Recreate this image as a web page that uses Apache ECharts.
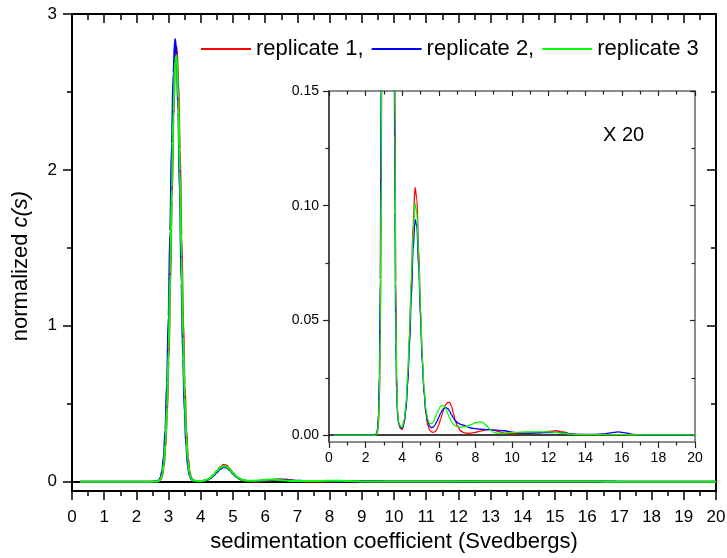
<!DOCTYPE html>
<html>
<head>
<meta charset="utf-8">
<script src="https://cdn.jsdelivr.net/npm/echarts@6/dist/echarts.min.js"></script>
<style>html,body{margin:0;padding:0;background:#fff}#c{width:727px;height:558px}</style>
</head>
<body>
<div id="c"></div>
<script>
// sedimentation coefficient (S)
const xs = [0.25, 1, 2, 2.4, 2.5,
  2.6, 2.65, 2.7, 2.75, 2.8, 2.85, 2.9, 2.95, 3.0, 3.05, 3.1, 3.15, 3.2, 3.25, 3.3, 3.35, 3.4, 3.45, 3.5, 3.55, 3.6, 3.65, 3.7, 3.75, 3.8,
  3.9, 4.0,
  4.1, 4.2, 4.3, 4.4, 4.5, 4.6, 4.7, 4.8, 4.9, 5.0,
  5.1, 5.2, 5.3, 5.4, 5.5, 5.6, 5.7, 5.8, 5.9, 6.0,
  6.1, 6.2, 6.3, 6.4, 6.5, 6.6, 6.7, 6.8, 6.9, 7.0,
  7.2, 7.4, 7.6, 7.8, 8.0, 8.2, 8.4, 8.6, 8.8, 9.0,
  9.3, 9.6, 10, 10.5, 11, 11.5, 12, 12.4, 12.8, 13.2,
  13.6, 14, 14.5, 15, 15.4, 15.8, 16.2, 16.6, 17, 18,
  19, 20];
const rep1 = [0, 0, 0, 0, 0,
  0.0003, 0.0012, 0.0043, 0.0134, 0.038, 0.095, 0.214, 0.431, 0.776, 1.25, 1.805, 2.33, 2.69, 2.79, 2.575, 2.13, 1.58, 1.047, 0.621, 0.329, 0.157, 0.067, 0.026, 0.011, 0.0050,
  0.0029, 0.0025,
  0.005, 0.011, 0.024, 0.044, 0.068, 0.092, 0.108, 0.103, 0.081, 0.055,
  0.033, 0.018, 0.0088, 0.0042, 0.0022, 0.0014, 0.0012, 0.0015, 0.0025, 0.0045,
  0.007, 0.0095, 0.012, 0.0135, 0.0143, 0.0142, 0.0125, 0.0095, 0.0065, 0.0042,
  0.0018, 0.0010, 0.0008, 0.0009, 0.0012, 0.0016, 0.0020, 0.0024, 0.0025, 0.0022,
  0.0015, 0.0009, 0.0007, 0.0007, 0.0008, 0.0011, 0.0016, 0.0019, 0.0014, 0.0006,
  0.0003, 0.0002, 0.0002, 0.0002, 0.0002, 0.0002, 0.0002, 0.0001, 0.0001, 0.0001,
  0.0001, 0.0001];
const rep2 = [0, 0, 0, 0, 0.0001,
  0.0007, 0.0027, 0.0088, 0.026, 0.068, 0.159, 0.335, 0.632, 1.065, 1.61, 2.17, 2.62, 2.84, 2.74, 2.37, 1.84, 1.27, 0.79, 0.438, 0.218, 0.097, 0.040, 0.017, 0.0085, 0.0055,
  0.0036, 0.0030,
  0.0055, 0.011, 0.022, 0.039, 0.060, 0.081, 0.094, 0.091, 0.073, 0.051,
  0.031, 0.018, 0.0098, 0.0058, 0.0039, 0.0032, 0.0035, 0.0045, 0.006, 0.0078,
  0.0096, 0.011, 0.0118, 0.012, 0.0115, 0.0103, 0.0088, 0.0074, 0.0063, 0.0055,
  0.0047, 0.0042, 0.0035, 0.0030, 0.0028, 0.0026, 0.0025, 0.0024, 0.0023, 0.0022,
  0.0021, 0.0019, 0.0013, 0.0009, 0.0009, 0.0010, 0.0011, 0.0012, 0.0009, 0.0005,
  0.0003, 0.0003, 0.0003, 0.0005, 0.0010, 0.0014, 0.0010, 0.0003, 0.0001, 0.0001,
  0.0001, 0.0001];
const rep3 = [0, 0, 0, 0, 0,
  0.0004, 0.0016, 0.0053, 0.0164, 0.045, 0.111, 0.244, 0.480, 0.846, 1.334, 1.882, 2.377, 2.70, 2.735, 2.457, 1.99, 1.442, 0.934, 0.542, 0.281, 0.131, 0.054, 0.022, 0.0095, 0.0058,
  0.0040, 0.0034,
  0.0065, 0.013, 0.026, 0.045, 0.068, 0.089, 0.101, 0.097, 0.078, 0.055,
  0.034, 0.020, 0.011, 0.0068, 0.0050, 0.0050, 0.0058, 0.0075, 0.0095, 0.0113,
  0.0126, 0.0130, 0.0126, 0.0112, 0.0093, 0.0074, 0.0058, 0.0047, 0.0040, 0.0037,
  0.0035, 0.0036, 0.0040, 0.0047, 0.0054, 0.0058, 0.0055, 0.0042, 0.0025, 0.0012,
  0.0007, 0.0008, 0.0011, 0.0013, 0.0014, 0.0014, 0.0014, 0.0012, 0.0008, 0.0004,
  0.0002, 0.0002, 0.0002, 0.0002, 0.0002, 0.0002, 0.0002, 0.0001, 0.0001, 0.0001,
  0.0001, 0.0001];

const seriesNames = ['replicate 1,', 'replicate 2,', 'replicate 3'];
const seriesColors = ['#ff0000', '#0000ff', '#00ff00'];
const mainYTicks = [0, 1, 2, 3];
const mainYMinor = [0.5, 1.5, 2.5];
const insetYTicks = [0, 0.05, 0.10, 0.15];
const insetYMinor = [0.025, 0.075, 0.125];
const insetYLabels = ['0.00', '0.05', '0.10', '0.15'];
const xTitle = 'sedimentation coefficient (Svedbergs)';
const insetNote = 'X 20';

const FONT = 'Liberation Sans, Arial, sans-serif';
const reps = [rep1, rep2, rep3];
const pairs = r => xs.map((x, i) => [x, r[i]]);

const chart = echarts.init(document.getElementById('c'), null, {renderer: 'canvas'});

function xAxisDef(grid, pos, opts) {
  return Object.assign({
    type: 'value', gridIndex: grid, position: pos, min: 0, max: 20,
    splitLine: {show: false},
    axisLine: {onZero: false, lineStyle: {color: '#000', width: 2}},
    axisTick: {show: true, inside: false, length: 9, lineStyle: {color: '#000', width: 1.5}},
    minorTick: {show: true, splitNumber: 2, length: 5, lineStyle: {color: '#000', width: 1.5}},
    axisLabel: {show: false}
  }, opts);
}
function yAxisDef(grid, pos, min, max, ticks, opts) {
  return Object.assign({
    type: 'value', gridIndex: grid, position: pos, min: min, max: max,
    splitLine: {show: false},
    axisLine: {onZero: false, show: true, lineStyle: {color: '#000', width: 2}},
    axisTick: {show: true, customValues: ticks, length: 9, lineStyle: {color: '#000', width: 1.5}},
    axisLabel: {show: false, customValues: ticks}
  }, opts);
}

const series = [];
reps.forEach((r, k) => {
  series.push({
    name: seriesNames[k], type: 'line', xAxisIndex: 0, yAxisIndex: 0,
    data: pairs(r), symbol: 'none', smooth: 0.35, smoothMonotone: 'x',
    lineStyle: {color: seriesColors[k], width: 2}, itemStyle: {color: seriesColors[k]},
    z: 3 + k,
    markLine: k === 0 ? {silent: true, symbol: 'none', label: {show: false},
      lineStyle: {color: '#000', width: 2, type: 'solid'}, data: [{yAxis: 0}], z: 2} : undefined
  });
});
reps.forEach((r, k) => {
  series.push({
    name: seriesNames[k], type: 'line', xAxisIndex: 2, yAxisIndex: 4,
    data: pairs(r), symbol: 'none', smooth: 0.35, smoothMonotone: 'x',
    lineStyle: {color: seriesColors[k], width: 1.3}, itemStyle: {color: seriesColors[k]},
    z: 3 + k, clip: true,
    markLine: k === 0 ? {silent: true, symbol: 'none', label: {show: false},
      lineStyle: {color: '#000', width: 1.5, type: 'solid'}, data: [{yAxis: 0}], z: 2} : undefined
  });
});

const INSET_GRAY = '#666';

chart.setOption({
  animation: false,
  backgroundColor: '#fff',
  grid: [
    {left: 72, right: 11, top: 14, bottom: 67, outerBoundsMode: 'none', containLabel: false},
    {left: 329, right: 32, top: 91, bottom: 116, outerBoundsMode: 'none', containLabel: false}
  ],
  legend: {
    data: seriesNames, left: 196, top: 33, icon: 'rect', itemWidth: 50, itemHeight: 2, itemGap: 8,
    textStyle: {fontFamily: FONT, fontSize: 22, color: '#000'}, padding: 5
  },
  xAxis: [
    xAxisDef(0, 'bottom', {
      interval: 1,
      axisLabel: {show: true, fontFamily: FONT, fontSize: 17, color: '#000', margin: 18},
      name: xTitle, nameLocation: 'middle', nameGap: 37,
      nameTextStyle: {fontFamily: FONT, fontSize: 22, color: '#000'}
    }),
    xAxisDef(0, 'top', {interval: 1,
      axisTick: {show: true, inside: true, length: 9, lineStyle: {color: '#000', width: 1.5}},
      minorTick: {show: true, splitNumber: 2, length: 6, lineStyle: {color: '#000', width: 1.5}}}),
    xAxisDef(1, 'bottom', {
      interval: 2,
      axisLine: {onZero: false, lineStyle: {color: INSET_GRAY, width: 1.5}},
      axisTick: {show: true, length: 6, lineStyle: {color: '#222', width: 1.2}},
      minorTick: {show: true, splitNumber: 2, length: 3.5, lineStyle: {color: '#222', width: 1.2}},
      axisLabel: {show: true, fontFamily: FONT, fontSize: 14, color: '#000', margin: 9}
    }),
    xAxisDef(1, 'top', {
      interval: 2,
      axisLine: {onZero: false, lineStyle: {color: INSET_GRAY, width: 1.5}},
      axisTick: {show: true, inside: true, length: 5, lineStyle: {color: '#222', width: 1.2}},
      minorTick: {show: true, splitNumber: 2, length: 3.5, lineStyle: {color: '#222', width: 1.2}}
    })
  ],
  yAxis: [
    yAxisDef(0, 'left', -0.06, 3, mainYTicks, {
      axisLabel: {show: true, customValues: mainYTicks, fontFamily: FONT, fontSize: 17, color: '#000', margin: 15,
        formatter: v => String(Math.round(v))}
    }),
    yAxisDef(0, 'left', -0.06, 3, mainYMinor, {
      axisLine: {show: false, onZero: false},
      axisTick: {show: true, customValues: mainYMinor, length: 5, lineStyle: {color: '#000', width: 1.5}}
    }),
    yAxisDef(0, 'right', -0.06, 3, mainYTicks, {
      axisTick: {show: true, inside: true, customValues: mainYTicks, length: 9, lineStyle: {color: '#000', width: 1.5}}
    }),
    yAxisDef(0, 'right', -0.06, 3, mainYMinor, {
      axisLine: {show: false, onZero: false},
      axisTick: {show: true, inside: true, customValues: mainYMinor, length: 5, lineStyle: {color: '#000', width: 1.5}}
    }),
    yAxisDef(1, 'left', -0.003, 0.15, insetYTicks, {
      axisLine: {show: true, onZero: false, lineStyle: {color: '#111', width: 1.5}},
      axisTick: {show: true, customValues: insetYTicks, length: 6, lineStyle: {color: '#222', width: 1.2}},
      axisLabel: {show: true, customValues: insetYTicks, fontFamily: FONT, fontSize: 14, color: '#000', margin: 10,
        formatter: v => insetYLabels[insetYTicks.findIndex(t => Math.abs(t - v) < 1e-9)] || v.toFixed(2)}
    }),
    yAxisDef(1, 'left', -0.003, 0.15, insetYMinor, {
      axisLine: {show: false, onZero: false},
      axisTick: {show: true, customValues: insetYMinor, length: 3.5, lineStyle: {color: '#222', width: 1.2}}
    }),
    yAxisDef(1, 'right', -0.003, 0.15, insetYTicks, {
      axisLine: {show: true, onZero: false, lineStyle: {color: INSET_GRAY, width: 1.5}},
      axisTick: {show: true, inside: true, customValues: insetYTicks, length: 5, lineStyle: {color: '#222', width: 1.2}}
    }),
    yAxisDef(1, 'right', -0.003, 0.15, insetYMinor, {
      axisLine: {show: false, onZero: false},
      axisTick: {show: true, inside: true, customValues: insetYMinor, length: 3.5, lineStyle: {color: '#222', width: 1.2}}
    })
  ],
  graphic: [
    {type: 'text', x: 21, y: 266, rotation: Math.PI / 2,
      style: {text: 'normalized {i|c(s)}', fontFamily: FONT, fontSize: 22, fill: '#000',
        align: 'center', verticalAlign: 'middle',
        rich: {i: {fontStyle: 'italic', fontFamily: FONT, fontSize: 22, fill: '#000'}}}},
    {type: 'text', x: 603, y: 135,
      style: {text: insetNote, fontFamily: FONT, fontSize: 20, fill: '#000', align: 'left', verticalAlign: 'middle'}}
  ],
  series: series
});
</script>
</body>
</html>
